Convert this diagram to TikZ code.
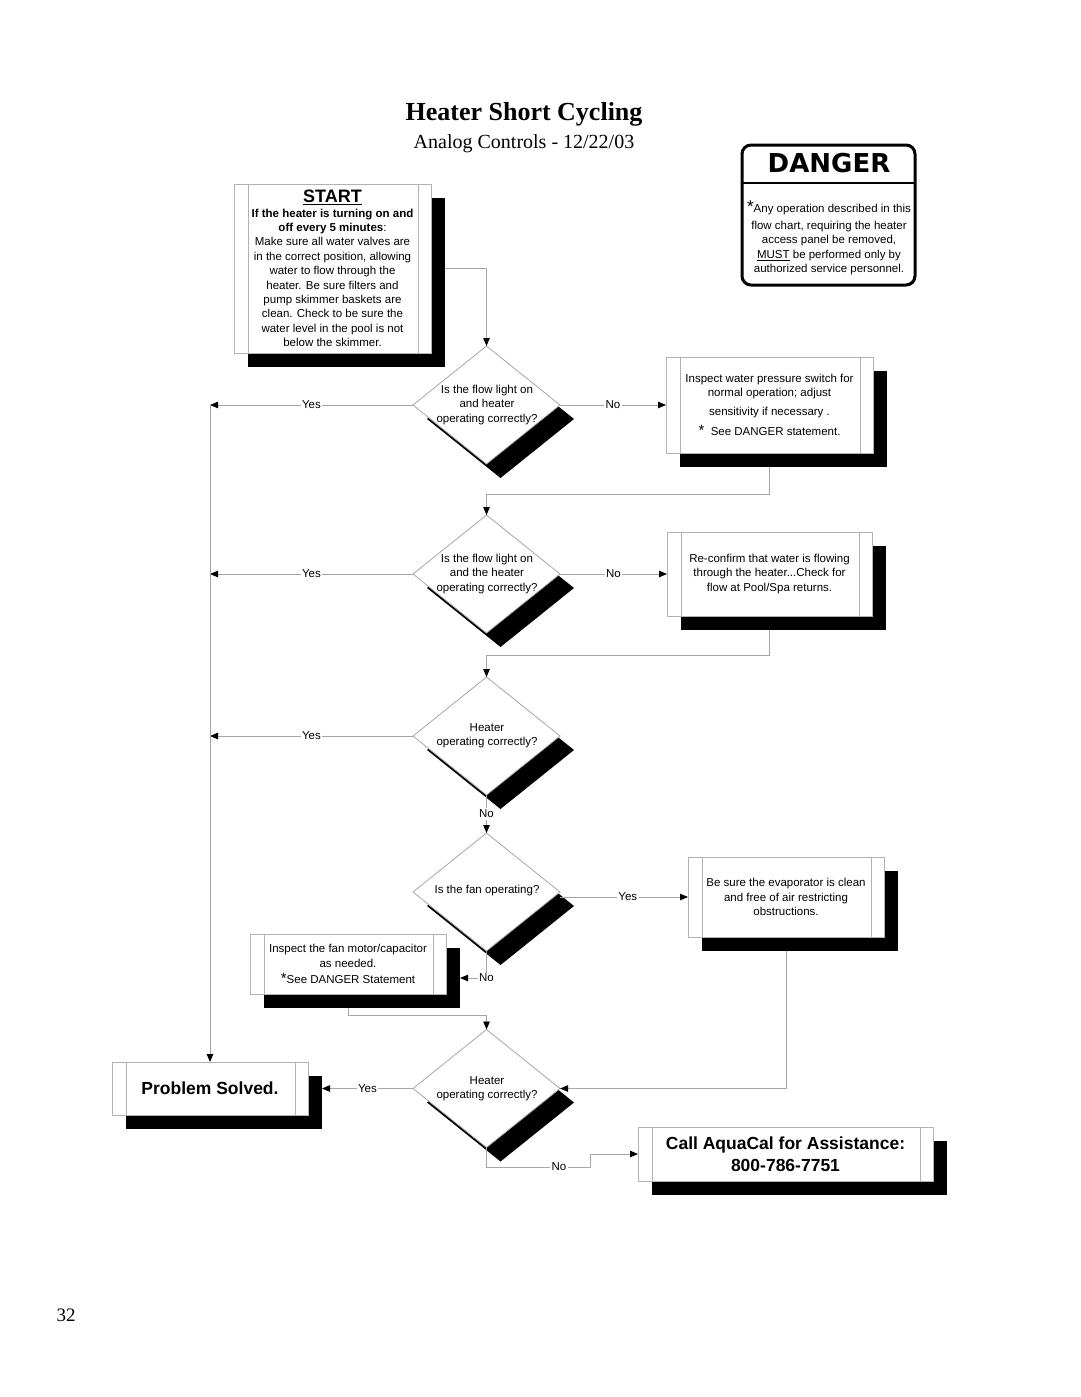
\documentclass[tikz,border=0pt]{standalone}
\usepackage{fontspec}
\setmainfont{Liberation Serif}
\setsansfont{Liberation Sans}
\newfontfamily\signfont{DejaVu Sans}
\usetikzlibrary{shapes.geometric,arrows.meta,shadows}

\begin{document}
\begin{tikzpicture}[x=1pt, y=-1pt, line width=0.8pt,
  every node/.style={font=\sffamily\fontsize{11.5}{14.4}\selectfont, inner sep=0pt, outer sep=0pt},
  boxshadow/.style={drop shadow={shadow xshift=14pt, shadow yshift=-14pt, opacity=1, fill=black}},
  stepbox/.style={draw=gray!60, fill=white, align=center, boxshadow,
    path picture={\draw[gray!60, line width=0.8pt]
      ([xshift=14pt]path picture bounding box.north west) -- ([xshift=14pt]path picture bounding box.south west)
      ([xshift=-13pt]path picture bounding box.north east) -- ([xshift=-13pt]path picture bounding box.south east);}},
  question/.style={diamond, draw=gray!70, fill=white, boxshadow, minimum width=147pt, minimum height=118pt},
  qtext/.style={align=center},
  flow/.style={draw=gray!70, -{Triangle[length=8pt, width=6.5pt, color=black]}},
  lbl/.style={fill=white, inner sep=1.5pt}]

\path[use as bounding box, fill=white] (0,0) rectangle (1080,1397);

\node[font=\rmfamily\bfseries\fontsize{26}{30}\selectfont] (title) at (524,114) {Heater Short Cycling};
\node[font=\rmfamily\fontsize{20}{24}\selectfont] (subtitle) at (524,144) {Analog Controls - 12/22/03};
\node[font=\rmfamily\fontsize{19}{22}\selectfont] (page) at (66,1315) {32};

\node[draw, line width=3pt, rounded corners=9pt, minimum width=173pt, minimum height=140pt] (danger) at (828.5,215) {};
\coordinate (dl) at (742,183);
\coordinate (dr) at (915,183);
\draw[line width=2pt] (dl) -- (dr);
\node[font=\signfont\bfseries\fontsize{26}{30}\selectfont] (dangerhead) at (829,163) {DANGER};
\node[align=center, font=\sffamily\fontsize{11.5}{14.6}\selectfont] (dangertext) at (829,238) {{\fontsize{17}{17}\selectfont *}Any operation described in this\\[2pt]
  flow chart, requiring the heater\\
  access panel be removed,\\
  \underline{MUST} be performed only by\\
  authorized service personnel.};

\node[stepbox, minimum width=197pt, minimum height=169pt] (start) at (332.5,268.5) {{\fontsize{18}{18}\selectfont\bfseries\underline{START}}\\
  \textbf{If the heater is turning on and}\\
  \textbf{off every 5 minutes}:\\
  Make sure all water valves are\\
  in the correct position, allowing\\
  water to flow through the\\
  heater.  Be sure filters and\\
  pump skimmer baskets are\\
  clean.  Check to be sure the\\
  water level in the pool is not\\
  below the skimmer.};

\node[question] (d1) at (486.5,405) {};
\node[qtext] (q1) at (487,405) {Is the flow light on\\and heater\\operating correctly?};
\node[stepbox, minimum width=207pt, minimum height=96pt] (pswitch) at (769.5,405) {Inspect water pressure switch for\\
  normal operation; adjust\\[4pt]
  sensitivity if necessary .\\[6pt]
  {\fontsize{15}{15}\selectfont *}\ \ See DANGER statement.};

\node[question] (d2) at (486.5,574) {};
\node[qtext] (q2) at (487,574) {Is the flow light on\\and the heater\\operating correctly?};
\node[stepbox, minimum width=205pt, minimum height=84pt] (reconfirm) at (769.5,574) {Re-confirm that water is flowing\\
  through the heater...Check for\\
  flow at Pool/Spa returns.};

\node[question] (d3) at (486.5,736) {};
\node[qtext] (q3) at (487,735.5) {Heater\\operating correctly?};

\node[question] (d4) at (486.5,892) {};
\node[qtext] (q4) at (487,891) {Is the fan operating?};
\node[stepbox, minimum width=196pt, minimum height=80pt] (evap) at (786,897) {Be sure the evaporator is clean\\
  and free of air restricting\\
  obstructions.};
\node[stepbox, minimum width=196pt, minimum height=60pt] (fanmotor) at (348,964) {Inspect the fan motor/capacitor\\
  as needed.\\[2pt]
  {\fontsize{15}{15}\selectfont *}See DANGER Statement};

\node[question] (d5) at (486.5,1088.5) {};
\node[qtext] (q5) at (487,1088.5) {Heater\\operating correctly?};
\node[stepbox, minimum width=196pt, minimum height=53pt, font=\sffamily\bfseries\fontsize{17.5}{20}\selectfont] (solved) at (210,1088.5) {Problem Solved.};
\node[stepbox, minimum width=295pt, minimum height=54pt, font=\sffamily\bfseries\fontsize{17.5}{22}\selectfont] (call) at (785.5,1154) {Call AquaCal for Assistance:\\800-786-7751};

\coordinate (t1) at (solved.north |- d1.west);
\coordinate (t2) at (solved.north |- d2.west);
\coordinate (t3) at (solved.north |- d3.west);
\coordinate (n5) at (590,1167);

\draw[flow] ([xshift=14pt]start.east) -| (d1.north);
\draw[flow] (d1.west) -- node[lbl]{Yes} (t1);
\draw[flow] (d1.east) -- node[lbl]{No} (pswitch.west);
\draw[flow] ([yshift=-14pt]pswitch.south) -- ++(0,27) -| (d2.north);
\draw[flow] (d2.west) -- node[lbl]{Yes} (t2);
\draw[flow] (d2.east) -- node[lbl]{No} (reconfirm.west);
\draw[flow] ([yshift=-14pt]reconfirm.south) -- ++(0,25) -| (d3.north);
\draw[flow] (d3.west) -- node[lbl]{Yes} (t3);
\draw[flow] (t1) -- (solved.north);
\draw[flow] (d3.south) -- node[lbl]{No} (d4.north);
\draw[flow] (d4.east |- evap.west) -- node[lbl, pos=0.53]{Yes} (evap.west);
\draw[flow] (d4.south) |- node[lbl]{No} ([xshift=14pt,yshift=-14pt]fanmotor.east);
\draw[flow] ([yshift=-14pt]fanmotor.south) -- ++(0,7) -| (d5.north);
\draw[flow] ([yshift=-14pt]evap.south) |- (d5.east);
\draw[flow] (d5.west) -- node[lbl]{Yes} ([xshift=14pt]solved.east);
\draw[flow] (d5.south) |- node[lbl, pos=0.85]{No} (n5) |- (call.west);
\end{tikzpicture}
\end{document}
